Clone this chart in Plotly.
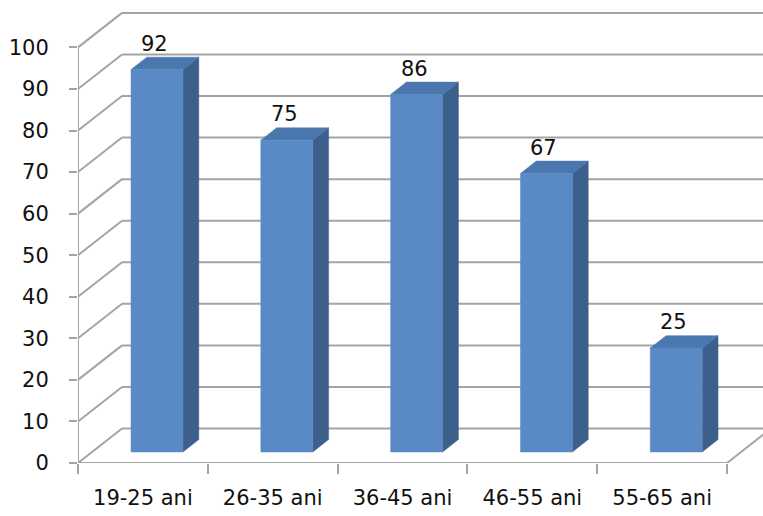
import plotly.graph_objects as go

# Age groups and counts
categories = ["19-25 ani", "26-35 ani", "36-45 ani", "46-55 ani", "55-65 ani"]
values = [92, 75, 86, 67, 25]
y_ticks = list(range(0, 101, 10))

# Oblique projection of the 3-D box (in axis units)
DX = 0.339      # depth shift along x (categories)
DY = 8.3        # depth shift along y (value units)
BAR_W = 0.40    # bar width (categories)
F0 = 0.32       # depth of the bar's front face
FD = 0.36       # bar depth

GRID = "#A4A4A4"
FRONT = "#5A8AC5"
SIDE = "#3C5F8C"
TOP = "#4A77AE"
FONT = dict(family="DejaVu Sans", size=21, color="#111111")

n = len(categories)
x_left = -0.5
x_right = n - 0.5
x_max = 4.777
y_max = 111.4

fig = go.Figure()

def line(xs, ys, color=GRID, width=2):
    fig.add_trace(go.Scatter(x=xs, y=ys, mode="lines",
                             line=dict(color=color, width=width),
                             hoverinfo="skip", showlegend=False))

# Back wall gridlines and side wall diagonals
for v in y_ticks:
    line([x_left + DX, x_max + 1], [v + DY, v + DY])
    line([x_left, x_left + DX], [v, v + DY])

# Front vertical axis, floor front edge and right floor diagonal
line([x_left, x_left], [0, y_ticks[-1]])
line([x_left, x_right], [0, 0])
line([x_right, x_right + DX], [0, DY])

def poly(xs, ys, color):
    fig.add_trace(go.Scatter(x=xs + [xs[0]], y=ys + [ys[0]], mode="lines",
                             fill="toself", fillcolor=color,
                             line=dict(color=color, width=0.5),
                             hoverinfo="skip", showlegend=False))

for i, v in enumerate(values):
    xl = i - BAR_W / 2 + F0 * DX
    xr = i + BAR_W / 2 + F0 * DX
    yb = F0 * DY
    yt = v + F0 * DY
    ddx, ddy = FD * DX, FD * DY
    # side face
    poly([xr, xr + ddx, xr + ddx, xr], [yb, yb + ddy, yt + ddy, yt], SIDE)
    # top face
    poly([xl, xr, xr + ddx, xl + ddx], [yt, yt, yt + ddy, yt + ddy], TOP)
    # front face
    poly([xl, xr, xr, xl], [yb, yb, yt, yt], FRONT)
    fig.add_annotation(x=i + F0 * DX - 0.02, y=yt, text=str(v), showarrow=False,
                       yanchor="bottom", yshift=12, font=FONT)

fig.update_layout(
    width=763, height=516,
    margin=dict(l=78, r=0, t=0, b=53),
    paper_bgcolor="white", plot_bgcolor="white",
    xaxis=dict(range=[x_left, x_max], tickvals=list(range(n)), ticktext=categories,
               ticks="", showgrid=False, zeroline=False, showline=False,
               tickfont=FONT, ticklabelstandoff=20,
               minor=dict(tick0=-0.5, dtick=1, ticks="outside", ticklen=10,
                          tickwidth=2, tickcolor=GRID, showgrid=False)),
    yaxis=dict(range=[0, y_max], tickvals=y_ticks, ticks="outside", ticklen=8,
               tickwidth=2, tickcolor=GRID, showgrid=False, zeroline=False,
               showline=False, tickfont=FONT, ticklabelstandoff=16),
)

fig.write_html("out.html")
